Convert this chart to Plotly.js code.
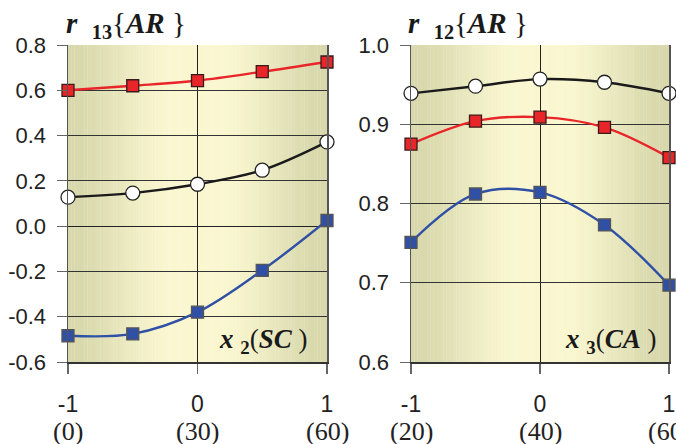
<!DOCTYPE html>
<html><head><meta charset="utf-8">
<script src="https://cdn.plot.ly/plotly-3.0.1.min.js"></script>
<style>html,body{margin:0;padding:0;background:#fff}#c{width:676px;height:444px}</style>
</head><body><div id="c"></div>
<script>
// ---- data ----
const xCoded = [-1, -0.5, 0, 0.5, 1];
const tickVals = [-1, 0, 1];
const tickCoded = ["-1", "0", "1"];
const leftNatural = ["(0)", "(30)", "(60)"];
const rightNatural = ["(20)", "(40)", "(60)"];

// left panel: r13{AR} vs x2 (SC)
const leftRed   = [0.600, 0.620, 0.643, 0.682, 0.725];
const leftBlack = [0.128, 0.146, 0.185, 0.247, 0.372];
const leftBlue  = [-0.484, -0.476, -0.380, -0.195, 0.025];

// right panel: r12{AR} vs x3 (CA)
const rightBlack = [0.939, 0.948, 0.957, 0.953, 0.939];
const rightRed   = [0.875, 0.904, 0.909, 0.896, 0.858];
const rightBlue  = [0.751, 0.812, 0.814, 0.773, 0.697];

const leftTicks = [-0.6, -0.4, -0.2, 0.0, 0.2, 0.4, 0.6, 0.8];
const leftTickText = ["-0.6", "-0.4", "-0.2", "0.0", "0.2", "0.4", "0.6", "0.8"];
const rightTicks = [0.6, 0.7, 0.8, 0.9, 1.0];
const rightTickText = ["0.6", "0.7", "0.8", "0.9", "1.0"];

// ---- styles ----
const RED = '#e8262a', BLUE = '#3050a6', BLACK = '#1a1a1a';
const SANS = '"Liberation Sans", Arial, sans-serif';
const SERIF = '"Liberation Serif", "Times New Roman", serif';
function lineTrace(x, y, color, xa, ya, kind) {
  let marker;
  if (kind === 'circle') marker = {symbol: 'circle', size: 14, color: '#ffffff', line: {color: '#222', width: 1.3}};
  else marker = {symbol: 'square', size: 12, color: color, line: {color: kind === 'blue' ? '#555' : '#3a1a1a', width: 1.3}};
  return {x: x, y: y, xaxis: xa, yaxis: ya, type: 'scatter', mode: 'lines+markers',
    line: {color: color, width: 2.4, shape: 'spline', smoothing: 1}, marker: marker,
    hoverinfo: 'skip', showlegend: false, cliponaxis: false};
}

const traces = [
  lineTrace(xCoded, leftRed, RED, 'x', 'y', 'red'),
  lineTrace(xCoded, leftBlack, BLACK, 'x', 'y', 'circle'),
  lineTrace(xCoded, leftBlue, BLUE, 'x', 'y', 'blue'),
  lineTrace(xCoded, rightBlack, BLACK, 'x2', 'y2', 'circle'),
  lineTrace(xCoded, rightRed, RED, 'x2', 'y2', 'red'),
  lineTrace(xCoded, rightBlue, BLUE, 'x2', 'y2', 'blue'),
];

// gradient background strips
const edge = [216, 216, 172], center = [250, 247, 208];
function mix(t) {
  return 'rgb(' + edge.map((e, i) => Math.round(center[i] + (e - center[i]) * t)).join(',') + ')';
}
const shapes = [];
const N = 80;
['x', 'x2'].forEach((xr, k) => {
  const yr = k === 0 ? 'y domain' : 'y2 domain';
  for (let i = 0; i < N; i++) {
    const a = -1 + 2 * i / N, b = -1 + 2 * (i + 1) / N;
    const m = Math.abs((a + b) / 2);
    let t = Math.max(0, (m - 0.15) / 0.85);
    t = t * t * (3 - 2 * t);
    shapes.push({type: 'rect', xref: xr, yref: yr, x0: a, x1: b + 0.002, y0: 0, y1: 1,
      fillcolor: mix(t), line: {width: 0}, layer: 'below'});
  }
});

const tickFont = {family: SANS, size: 23, color: '#222'};
function xaxis(domain, anchor) {
  return {domain: domain, anchor: anchor, range: [-1, 1], tickvals: tickVals, ticktext: tickCoded,
    tickfont: tickFont, ticks: 'outside', ticklen: 10, tickcolor: '#666', tickwidth: 1.5,
    showgrid: true, gridcolor: '#222', gridwidth: 1, zeroline: false,
    showline: true, linecolor: '#333', linewidth: 1.5, mirror: false, ticklabelstandoff: 11,
    fixedrange: true};
}
function yaxis(domain, anchor, range, tv, tt) {
  return {domain: domain, anchor: anchor, range: range, tickvals: tv, ticktext: tt,
    tickfont: {family: SANS, size: 22, color: '#222'}, ticks: 'outside', ticklen: 10, tickcolor: '#666', tickwidth: 1,
    showgrid: true, gridcolor: '#333', gridwidth: 1, zeroline: true, zerolinecolor: '#222', zerolinewidth: 1,
    showline: true, linecolor: '#555', linewidth: 1.5, mirror: true, ticklabelstandoff: 6,
    fixedrange: true};
}

const yDom = [1 - 362 / 444, 1 - 45 / 444];
const annotations = [];
tickVals.forEach((v, i) => {
  annotations.push({xref: 'x', yref: 'paper', x: v, y: 1 - 431 / 444, text: leftNatural[i],
    showarrow: false, font: {family: SERIF, size: 26, color: '#222'}, xanchor: 'center', yanchor: 'middle'});
  annotations.push({xref: 'x2', yref: 'paper', x: v, y: 1 - 431 / 444, text: rightNatural[i],
    showarrow: false, font: {family: SERIF, size: 26, color: '#222'}, xanchor: 'center', yanchor: 'middle'});
});
annotations.push({xref: 'paper', yref: 'paper', x: 64 / 676, y: 1 - 25 / 444, xanchor: 'left', yanchor: 'middle',
  text: '<b><i>r</i></b>  <b><sub>13</sub></b>{<b><i>AR</i></b> }', showarrow: false,
  font: {family: SERIF, size: 29, color: '#1a1a1a'}});
annotations.push({xref: 'paper', yref: 'paper', x: 406 / 676, y: 1 - 25 / 444, xanchor: 'left', yanchor: 'middle',
  text: '<b><i>r</i></b>  <b><sub>12</sub></b>{<b><i>AR</i></b> }', showarrow: false,
  font: {family: SERIF, size: 29, color: '#1a1a1a'}});
annotations.push({xref: 'paper', yref: 'paper', x: 309 / 676, y: 1 - 341 / 444, xanchor: 'right', yanchor: 'middle',
  text: '<b><i>x</i></b> <b><sub>2</sub></b>(<b><i>SC</i></b> )', showarrow: false,
  font: {family: SERIF, size: 27, color: '#1a1a1a'}});
annotations.push({xref: 'paper', yref: 'paper', x: 658 / 676, y: 1 - 341 / 444, xanchor: 'right', yanchor: 'middle',
  text: '<b><i>x</i></b> <b><sub>3</sub></b>(<b><i>CA</i></b> )', showarrow: false,
  font: {family: SERIF, size: 27, color: '#1a1a1a'}});

const layout = {
  width: 676, height: 444, margin: {l: 0, r: 0, t: 0, b: 0},
  paper_bgcolor: '#ffffff', plot_bgcolor: 'rgba(0,0,0,0)', showlegend: false,
  xaxis: xaxis([68 / 676, 327 / 676], 'y'),
  yaxis: yaxis(yDom, 'x', [-0.6, 0.8], leftTicks, leftTickText),
  xaxis2: xaxis([411 / 676, 669 / 676], 'y2'),
  yaxis2: yaxis(yDom, 'x2', [0.6, 1.0], rightTicks, rightTickText),
  shapes: shapes, annotations: annotations
};
Plotly.newPlot('c', traces, layout, {displayModeBar: false, staticPlot: true});
</script></body></html>
